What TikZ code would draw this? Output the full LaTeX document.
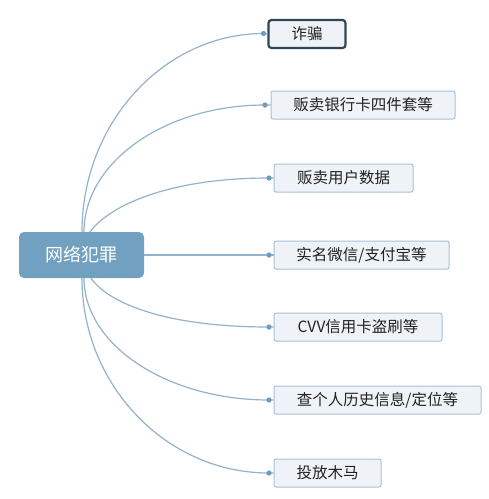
\documentclass[tikz,border=0pt]{standalone}
\usepackage{fontspec}
\setmainfont{Noto Sans CJK SC}
\usetikzlibrary{calc}
\definecolor{linec}{HTML}{93B3CB}
\definecolor{dotc}{HTML}{6E9BBE}
\definecolor{rootc}{HTML}{72A0C1}
\definecolor{boxfill}{HTML}{EFF3F7}
\definecolor{boxline}{HTML}{A6C2D8}
\definecolor{selline}{HTML}{2F4558}
\definecolor{txt}{HTML}{222222}
\begin{document}
\begin{tikzpicture}[x=1pt,y=-1pt,
  rootbox/.style={fill=rootc, rounded corners=5pt, minimum width=125pt, minimum height=46pt, inner sep=0pt, text=white, font=\fontsize{18pt}{20pt}\selectfont},
  leaf/.style={fill=boxfill, draw=boxline, line width=1pt, rounded corners=2pt, minimum height=28pt, inner sep=0pt, text=txt, font=\fontsize{15.5pt}{17pt}\selectfont},
  selleaf/.style={leaf, draw=selline, line width=2.2pt, rounded corners=3pt},
  conn/.style={draw=linec, line width=1.2pt},
  dotm/.style={fill=dotc}
]
\useasboundingbox (0,0) rectangle (489,499);
\fill[white] (0,0) rectangle (489,499);

\node[rootbox] (root) at (81.5,255) {网络犯罪};

\node[selleaf, minimum width=77pt, minimum height=28pt] (c1) at (307,34) {诈骗};
\node[leaf, minimum width=184pt] (c2) at (363,105) {贩卖银行卡四件套等};
\node[leaf, minimum width=139pt] (c3) at (343.5,178) {贩卖用户数据};
\node[leaf, minimum width=175pt] (c4) at (361.5,255) {实名微信/支付宝等};
\node[leaf, minimum width=168pt] (c5) at (358,327) {CVV信用卡盗刷等};
\node[leaf, minimum width=207pt] (c6) at (377.5,400) {查个人历史信息/定位等};
\node[leaf, minimum width=107pt] (c7) at (327.5,473) {投放木马};

\coordinate (d1) at (263.5,33.5);
\coordinate (d2) at (265,105);
\coordinate (d3) at (269,178);
\coordinate (d4) at (269,255);
\coordinate (d5) at (269,327);
\coordinate (d6) at (269,400);
\coordinate (d7) at (269,473);

\coordinate (s1) at ($(root.north)+(0.5,0)$);
\coordinate (s2) at ($(root.north)+(2.5,0)$);
\coordinate (s3) at ($(root.north)+(8.5,0)$);
\coordinate (s5) at ($(root.south)+(9.5,0)$);
\coordinate (s6) at ($(root.south)+(2.5,0)$);
\coordinate (s7) at ($(root.south)+(0.5,0)$);

\draw[conn] (s1) .. controls (82,122) and (165,33.5) .. (d1) -- (c1.west);
\draw[conn] (s2) .. controls (84,162) and (165,105) .. (d2) -- (c2.west);
\draw[conn] (s3) .. controls (110,205) and (170,178) .. (d3) -- (c3.west);
\draw[conn] (root.east) -- (d4) -- (c4.west);
\draw[conn] (s5) .. controls (110,305) and (170,327) .. (d5) -- (c5.west);
\draw[conn] (s6) .. controls (84,345) and (167,400) .. (d6) -- (c6.west);
\draw[conn] (s7) .. controls (82,385) and (166,473) .. (d7) -- (c7.west);

\foreach \d in {d1,d2,d3,d4,d5,d6,d7} \fill[dotm] (\d) circle (2.6pt);
\end{tikzpicture}
\end{document}
